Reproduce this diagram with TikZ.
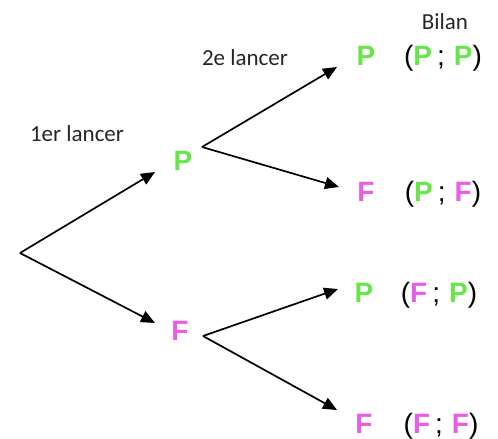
\documentclass[tikz,border=0pt]{standalone}
\usepackage{fontspec}
\setmainfont{Carlito}
\newfontfamily\lettrefont{Liberation Sans}
\usetikzlibrary{arrows.meta}
\definecolor{vert}{RGB}{102,230,72}
\definecolor{rose}{RGB}{232,92,232}
\newcommand{\LP}{\textcolor{vert}{\lettrefont\bfseries P}}
\newcommand{\LF}{\textcolor{rose}{\lettrefont\bfseries F}}
\newcommand{\bilan}[2]{{\lettrefont(}#1\hspace{5bp}{\lettrefont;}\hspace{9bp}#2{\lettrefont)}}
\begin{document}
\begin{tikzpicture}[x=1bp,y=-1bp,>={Triangle[length=14bp,width=12bp]},
    branche/.style={->,line width=1.7bp},
    lettre/.style={font=\fontsize{28bp}{32bp}\selectfont,inner sep=0pt,anchor=base},
    texte/.style={font=\fontsize{23bp}{28bp}\selectfont,inner sep=0pt,anchor=base,text=black!85}]
  \useasboundingbox (0,0) rectangle (498,439);
  % titres
  \node[texte] (t1) at (77,142) {1er lancer};
  \node[texte] (t2) at (245,66) {2e lancer};
  \node[texte] (t3) at (445,30) {Bilan};
  % issues
  \node[lettre] (p1) at (183,171) {\LP};
  \node[lettre] (f1) at (180,340) {\LF};
  \node[lettre] (pp) at (366,66) {\LP};
  \node[lettre] (pf) at (366,202) {\LF};
  \node[lettre] (fp) at (364,302) {\LP};
  \node[lettre] (ff) at (364,433) {\LF};
  % bilans
  \node[lettre] (bpp) at (443,66) {\bilan{\LP}{\LP}};
  \node[lettre] (bpf) at (443,202) {\bilan{\LP}{\LF}};
  \node[lettre] (bfp) at (439,302) {\bilan{\LF}{\LP}};
  \node[lettre] (bff) at (441,433) {\bilan{\LF}{\LF}};
  % branches
  \coordinate (root) at (20,253);
  \coordinate (p1in) at (155,172);
  \coordinate (f1in) at (155,323);
  \coordinate (p1out) at (202,147);
  \coordinate (f1out) at (203,336);
  \coordinate (ppin) at (337,67);
  \coordinate (pfin) at (339,187);
  \coordinate (fpin) at (338,289);
  \coordinate (ffin) at (337,410);
  \draw[branche] (root) -- (p1in);
  \draw[branche] (root) -- (f1in);
  \draw[branche] (p1out) -- (ppin);
  \draw[branche] (p1out) -- (pfin);
  \draw[branche] (f1out) -- (fpin);
  \draw[branche] (f1out) -- (ffin);
\end{tikzpicture}
\end{document}
